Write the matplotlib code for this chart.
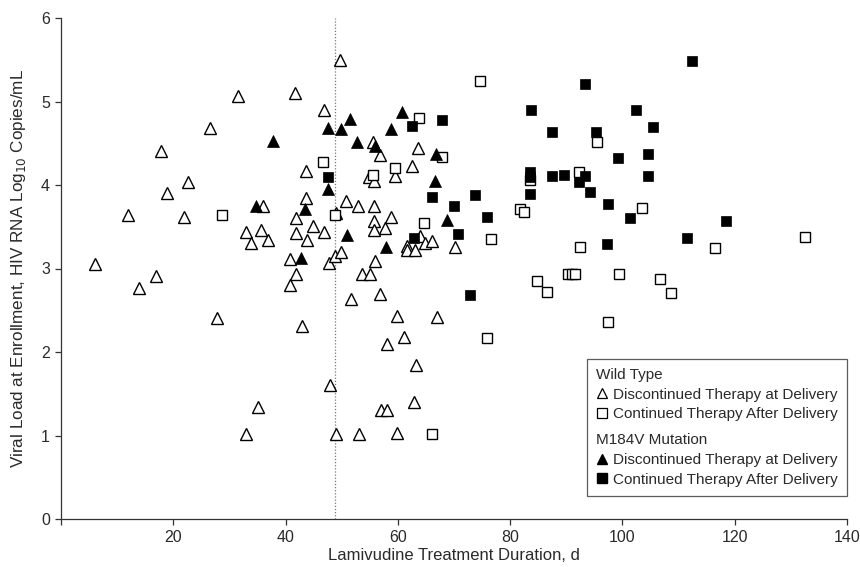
import matplotlib
matplotlib.use("Agg")
import matplotlib.pyplot as plt
from matplotlib.lines import Line2D

# ── Data ──────────────────────────────────────────────────────────────────────

# Wild type, discontinued therapy at delivery (open triangles)
wt_disc_x = [6.1, 12.0, 13.9, 16.9, 17.9, 18.8, 21.9, 22.7, 26.5, 27.7,
             31.6, 32.9, 32.9, 33.8, 35.0, 35.7, 36.0, 36.9, 40.8, 40.8,
             41.7, 41.8, 41.8, 41.9, 43.0, 43.6, 43.7, 43.8, 44.8, 46.8,
             46.8, 47.8, 48.0, 48.8, 49.0, 49.0, 49.7, 49.8, 50.7, 51.6,
             52.9, 53.0, 53.7, 55.0, 54.9, 55.5, 55.7, 55.8, 55.8, 55.7,
             55.9, 56.8, 56.9, 57.0, 58.0, 57.7, 58.0, 58.8, 59.5, 59.9,
             59.9, 61.1, 61.6, 61.7, 63.0, 62.6, 62.9, 63.2, 63.5, 63.9,
             64.8, 66.0, 67.0, 70.2]
wt_disc_y = [3.05, 3.64, 2.77, 2.91, 4.41, 3.91, 3.62, 4.04, 4.68, 2.41,
             5.07, 3.44, 1.02, 3.30, 1.34, 3.46, 3.75, 3.34, 3.11, 2.80,
             5.10, 2.94, 3.60, 3.43, 2.31, 4.17, 3.84, 3.34, 3.51, 4.90,
             3.44, 3.07, 1.60, 3.15, 3.67, 1.02, 5.50, 3.20, 3.81, 2.64,
             3.75, 1.02, 2.93, 2.93, 4.10, 4.51, 4.05, 3.75, 3.57, 3.46,
             3.09, 4.36, 2.70, 1.31, 1.31, 3.48, 2.10, 3.62, 4.11, 2.43,
             1.03, 2.18, 3.27, 3.22, 3.22, 4.23, 1.40, 1.84, 4.44, 3.39,
             3.31, 3.33, 2.42, 3.26]

# Wild type, continued therapy after delivery (open squares)
wt_cont_x = [28.7, 46.6, 48.8, 55.6, 59.5, 63.7, 67.9, 64.6, 74.6, 76.6,
             75.9, 66.0, 81.7, 82.5, 83.6, 84.8, 86.6, 90.3, 91.0, 91.6,
             92.2, 92.4, 95.4, 97.5, 99.4, 103.5, 106.7, 108.6, 116.5, 132.5]
wt_cont_y = [3.64, 4.28, 3.64, 4.12, 4.20, 4.80, 4.33, 3.54, 5.25, 3.35,
             2.17, 1.02, 3.71, 3.68, 4.06, 2.85, 2.72, 2.93, 2.93, 2.93,
             4.16, 3.26, 4.51, 2.36, 2.93, 3.72, 2.87, 2.71, 3.24, 3.38]

# M184V mutation, discontinued therapy at delivery (filled triangles)
mut_disc_x = [34.7, 37.8, 43.5, 42.8, 47.6, 47.6, 49.8, 51.5, 50.9, 52.8,
              55.9, 57.9, 58.8, 60.7, 66.8, 66.7, 68.8]
mut_disc_y = [3.75, 4.53, 3.71, 3.12, 4.68, 3.95, 4.67, 4.79, 3.40, 4.51,
              4.47, 3.26, 4.67, 4.88, 4.37, 4.05, 3.58]

# M184V mutation, continued therapy after delivery (filled squares)
mut_cont_x = [47.6, 62.6, 67.9, 62.9, 66.0, 70.0, 70.7, 72.9, 73.8, 75.9,
              83.7, 83.6, 83.6, 83.5, 87.5, 87.5, 89.6, 93.4, 93.4, 92.3,
              94.2, 95.3, 97.3, 97.5, 99.2, 101.4, 102.5, 104.6, 104.6, 105.5,
              111.5, 112.4, 118.5]
mut_cont_y = [4.10, 4.71, 4.78, 3.36, 3.86, 3.75, 3.41, 2.68, 3.88, 3.62,
              4.90, 4.15, 4.09, 3.89, 4.63, 4.11, 4.12, 5.21, 4.11, 4.03,
              3.92, 4.63, 3.29, 3.77, 4.32, 3.60, 4.90, 4.37, 4.11, 4.69,
              3.37, 5.49, 3.57]

median_duration = 48.8

x_ticks = [0, 20, 40, 60, 80, 100, 120, 140]
y_ticks = [0, 1, 2, 3, 4, 5, 6]

# ── Plot ──────────────────────────────────────────────────────────────────────

TXT = "#2a2a2a"
MS_TRI = 8.6
MS_SQ = 7.6


def plot(out_path: str) -> None:
    plt.rcParams["font.family"] = ["Liberation Sans", "DejaVu Sans"]
    fig = plt.figure(figsize=(8.6, 5.67), dpi=100)
    ax = fig.add_axes([61 / 860, 1 - 519 / 567, 786 / 860, 501 / 567])

    ax.axvline(median_duration, ymin=0, ymax=1, color="#777777",
               linestyle=(0, (1, 1.5)), linewidth=0.9, zorder=1)

    ax.plot(wt_disc_x, wt_disc_y, linestyle="none", marker="^", ms=MS_TRI,
            mfc="white", mec="black", mew=1.0, zorder=3)
    ax.plot(wt_cont_x, wt_cont_y, linestyle="none", marker="s", ms=MS_SQ,
            mfc="white", mec="black", mew=1.0, zorder=3)
    ax.plot(mut_disc_x, mut_disc_y, linestyle="none", marker="^", ms=MS_TRI,
            mfc="black", mec="black", mew=0.5, zorder=4)
    ax.plot(mut_cont_x, mut_cont_y, linestyle="none", marker="s", ms=MS_SQ,
            mfc="black", mec="black", mew=0.5, zorder=4)

    ax.set_xlim(0, 140)
    ax.set_ylim(0, 6)
    ax.set_xticks(x_ticks)
    ax.set_xticklabels([""] + [str(t) for t in x_ticks[1:]])
    ax.set_yticks(y_ticks)
    ax.tick_params(axis="both", direction="out", length=4, width=0.9,
                   color="#333333", labelcolor=TXT, labelsize=11.5, pad=4)

    for side in ("top", "right"):
        ax.spines[side].set_visible(False)
    for side in ("left", "bottom"):
        ax.spines[side].set_color("#333333")
        ax.spines[side].set_linewidth(0.9)

    ax.set_xlabel("Lamivudine Treatment Duration, d", fontsize=12,
                  color=TXT, labelpad=2)
    ax.set_ylabel("Viral Load at Enrollment, HIV RNA Log$_{10}$ Copies/mL",
                  fontsize=12.3, color=TXT, labelpad=9)

    # legend with group headers
    blank = Line2D([], [], linestyle="none", marker=None)
    handles = [
        blank,
        Line2D([], [], linestyle="none", marker="^", ms=7, mfc="white",
               mec="black", mew=0.9),
        Line2D([], [], linestyle="none", marker="s", ms=6.5, mfc="white",
               mec="black", mew=0.9),
        blank,
        Line2D([], [], linestyle="none", marker="^", ms=7, mfc="black",
               mec="black"),
        Line2D([], [], linestyle="none", marker="s", ms=6.5, mfc="black",
               mec="black"),
    ]
    labels = [
        "Wild Type",
        "Discontinued Therapy at Delivery",
        "Continued Therapy After Delivery",
        "M184V Mutation",
        "Discontinued Therapy at Delivery",
        "Continued Therapy After Delivery",
    ]
    leg = ax.legend(handles, labels, loc="lower right",
                    bbox_to_anchor=(1.0, 0.046), borderaxespad=0,
                    fontsize=11, frameon=True, fancybox=False,
                    edgecolor="#333333", handlelength=0.7,
                    handletextpad=0.4, labelspacing=0.38,
                    borderpad=0.6)
    leg.get_frame().set_linewidth(0.9)
    for t in leg.get_texts():
        t.set_color(TXT)

    # headers sit flush with the markers; extra gap above the second group
    rows = leg._legend_handle_box.get_children()[0].get_children()
    for i in (0, 3):
        da = rows[i].get_children()[0]
        da.set_width(0)
        rows[i].sep = 0
    da = rows[3].get_children()[0]
    da.set_height(da.height + 4.5)

    fig.savefig(out_path, dpi=100)
    plt.close(fig)


def main() -> None:
    plot("out.png")


if __name__ == "__main__":
    main()
